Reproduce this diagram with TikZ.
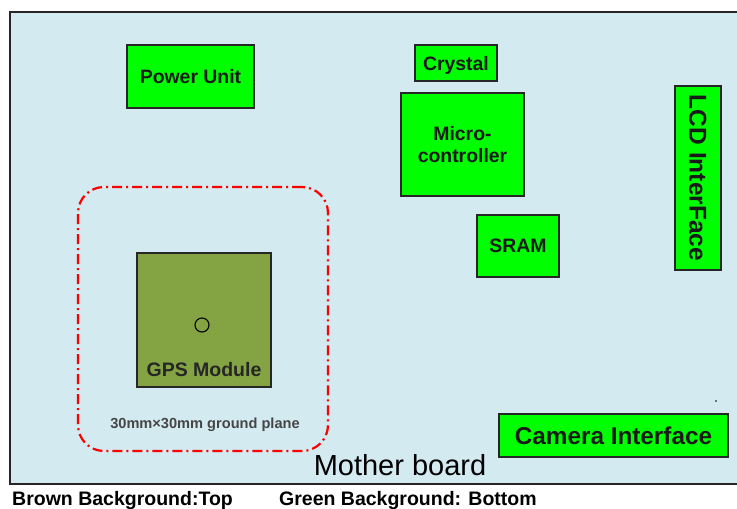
\documentclass[tikz,border=0pt]{standalone}
\usepackage{fontspec}
\setmainfont{Liberation Sans}
\definecolor{boardblue}{RGB}{211,234,240}
\definecolor{chipgreen}{RGB}{0,255,0}
\definecolor{gpsolive}{RGB}{132,163,66}
\definecolor{gplabel}{RGB}{70,70,70}
\begin{document}
\begin{tikzpicture}[x=1pt,y=-1pt,
  board/.style={draw=black!85,line width=1.2pt,fill=boardblue},
  chip/.style={draw=black!85,line width=1.2pt,fill=chipgreen,rectangle,inner sep=0pt,
    font=\fontsize{19.4}{22}\selectfont\bfseries,align=center,text=black!90},
  gpsbox/.style={draw=black!85,line width=1.2pt,fill=gpsolive,rectangle,inner sep=0pt},
  gnd/.style={draw=red,line width=2.2pt,rectangle,rounded corners=26pt,inner sep=0pt,
    dash pattern=on 10pt off 4pt on 2pt off 4pt},
  legend/.style={inner sep=0pt,anchor=base west,font=\fontsize{19.5}{22}\selectfont\bfseries}]
\useasboundingbox (0,0) rectangle (737,509);
\fill[white] (0,0) rectangle (737,509);
% mother board
\path[board] (10,12) rectangle (745,484);
\coordinate (mbl) at (400,475);
\node[inner sep=0pt,anchor=base,font=\fontsize{29}{33}\selectfont] (mb) at (mbl) {Mother board};
% chips
\node[chip,minimum width=127pt,minimum height=63pt,text depth=0pt] (pu) at (190.5,76.5) {Power Unit};
\node[chip,minimum width=82pt,minimum height=36pt,text depth=0pt] (cr) at (456,63) {Crystal};
\node[chip,minimum width=123pt,minimum height=103pt] (mc) at (462.5,144.5) {Micro-\\controller};
\node[chip,minimum width=82pt,minimum height=62pt,text depth=0pt] (sr) at (518,246) {SRAM};
\node[chip,minimum width=184pt,minimum height=46pt,rotate=-90,text depth=0pt,
  font=\fontsize{24.5}{28}\selectfont\bfseries] (lcd) at (698,178) {LCD InterFace};
\node[chip,minimum width=229pt,minimum height=43pt,text depth=0pt,
  font=\fontsize{24.3}{28}\selectfont\bfseries] (cam) at (613.5,435.5) {Camera Interface};
% ground plane
\node[gnd,minimum width=250pt,minimum height=264pt] (gp) at (203,319) {};
\node[inner sep=0pt,text=gplabel,font=\fontsize{14.6}{17}\selectfont\bfseries,text depth=0pt] (gpl) at (205,423) {30mm×30mm ground plane};
% GPS module
\node[gpsbox,minimum width=134pt,minimum height=134pt] (gps) at (204,320) {};
\node[draw=black,line width=1.1pt,circle,minimum size=14pt,inner sep=0pt] (ant) at (202,325) {};
\node[inner sep=0pt,font=\fontsize{19.5}{22}\selectfont\bfseries,text=black!85,text depth=0pt] (gpst) at (204,369) {GPS Module};
% small dot
\node[fill=black,circle,minimum size=1.8pt,inner sep=0pt] (dot) at (716,401) {};
% legend
\node[legend] (lt) at (12,505) {Brown Background:Top};
\node[legend] (lb) at (279,505) {Green Background: Bottom};
\end{tikzpicture}
\end{document}
